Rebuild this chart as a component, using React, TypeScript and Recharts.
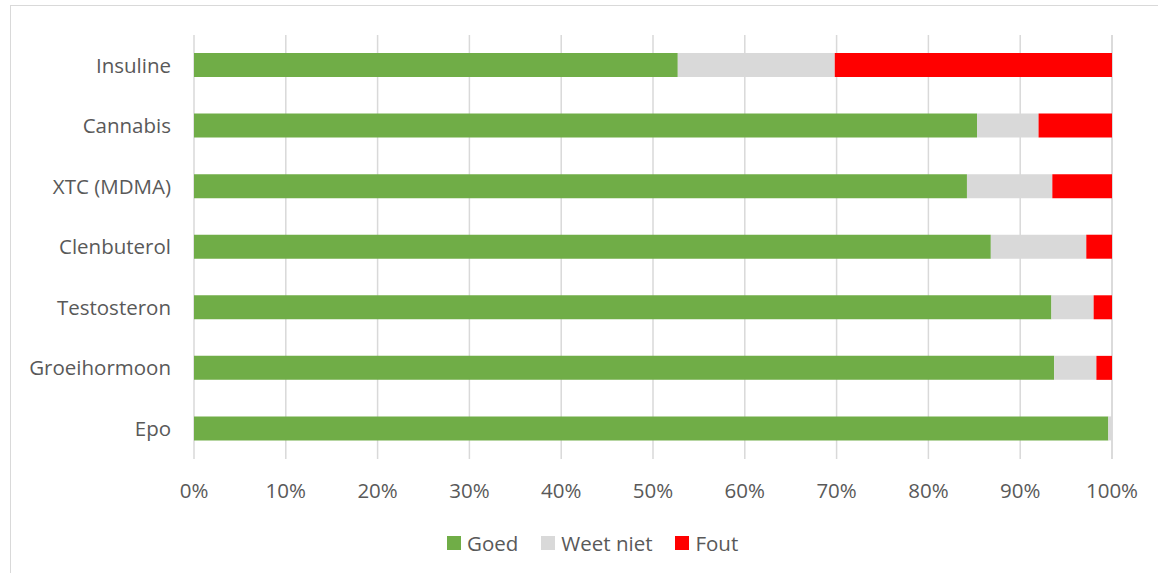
import { BarChart, Bar, XAxis, YAxis, CartesianGrid } from 'recharts'

// Middelen, van boven naar beneden
const categories = ['Insuline', 'Cannabis', 'XTC (MDMA)', 'Clenbuterol', 'Testosteron', 'Groeihormoon', 'Epo']

// percentages per antwoord
const goed = [52.7, 85.3, 84.2, 86.8, 93.4, 93.7, 99.6]
const weetNiet = [17.1, 6.7, 9.3, 10.4, 4.6, 4.6, 0.4]
const fout = [30.2, 8.0, 6.5, 2.8, 2.0, 1.7, 0]

const xTicks = [0, 10, 20, 30, 40, 50, 60, 70, 80, 90, 100]

const series = [
  { key: 'goed', label: 'Goed', color: '#70AD47' },
  { key: 'weetNiet', label: 'Weet niet', color: '#D9D9D9' },
  { key: 'fout', label: 'Fout', color: '#FF0000' },
]

const data = categories.map((name, i) => ({
  name,
  goed: goed[i],
  weetNiet: weetNiet[i],
  fout: fout[i],
}))

const font = '"Open Sans", sans-serif'
const textColor = '#595959'
const fontSize = 20.5

export default function App() {
  return (
    <div
      style={{
        position: 'absolute',
        left: 0,
        top: 0,
        width: 1158,
        height: 573,
        overflow: 'hidden',
        background: '#fff',
        fontFamily: font,
      }}
    >
      {/* chart frame, right and bottom edges fall outside the crop */}
      <div
        style={{
          position: 'absolute',
          left: 10,
          top: 5,
          width: 1170,
          height: 600,
          borderLeft: '1.5px solid #D9D9D9',
          borderTop: '1.5px solid #D9D9D9',
        }}
      />
      <div style={{ position: 'absolute', left: 0, top: 0 }}>
        <BarChart
          width={1158}
          height={573}
          data={data}
          layout="vertical"
          margin={{ top: 35, right: 46, left: 14, bottom: 74 }}
          barSize={24}
        >
          <CartesianGrid horizontal={false} vertical stroke="#D9D9D9" strokeWidth={1.5} />
          <XAxis
            type="number"
            domain={[0, 100]}
            ticks={xTicks}
            tickFormatter={(v) => `${v}%`}
            axisLine={false}
            tickLine={false}
            tickSize={0}
            tickMargin={24}
            height={40}
            interval={0}
            tick={{ fill: textColor, fontSize, fontFamily: font }}
          />
          <YAxis
            type="category"
            dataKey="name"
            width={180}
            axisLine={false}
            tickLine={false}
            tickSize={0}
            tickMargin={23}
            interval={0}
            tick={{ fill: textColor, fontSize, fontFamily: font }}
          />
          {series.map((s) => (
            <Bar
              key={s.key}
              dataKey={s.key}
              name={s.label}
              stackId="a"
              fill={s.color}
              isAnimationActive={false}
            />
          ))}
        </BarChart>
      </div>
      {/* legend */}
      <div
        style={{
          position: 'absolute',
          left: 447,
          top: 529,
          display: 'flex',
          alignItems: 'center',
          height: 28,
          fontSize,
          color: textColor,
        }}
      >
        {series.map((s) => (
          <div key={s.key} style={{ display: 'flex', alignItems: 'center', marginRight: 23 }}>
            <span style={{ width: 14, height: 14, background: s.color, marginRight: 6, display: 'inline-block' }} />
            <span>{s.label}</span>
          </div>
        ))}
      </div>
    </div>
  )
}
